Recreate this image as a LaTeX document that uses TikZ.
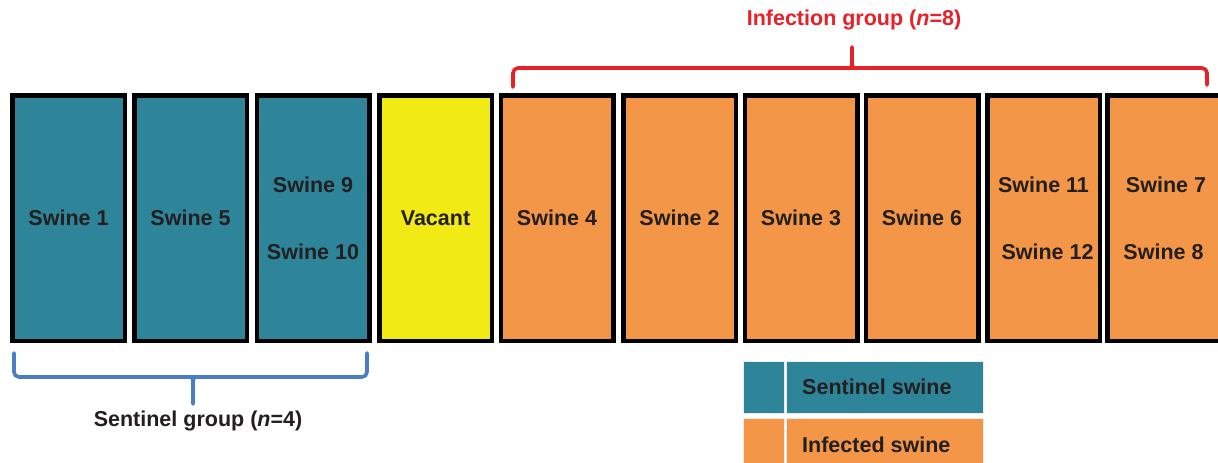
\documentclass[tikz,border=0pt]{standalone}
\usepackage{fontspec}
\setmainfont{Liberation Sans}
\definecolor{teal}{RGB}{46,132,153}
\definecolor{orng}{RGB}{243,150,71}
\definecolor{yell}{RGB}{241,234,20}
\definecolor{redb}{RGB}{232,32,40}
\definecolor{blueb}{RGB}{74,125,196}
\definecolor{txt}{RGB}{35,31,32}
\tikzset{
  pen/.style={draw=black, line width=4.5pt, minimum width=112.5pt, minimum height=245.5pt,
    inner sep=0pt, align=center, text=txt,
    font=\fontsize{21.5pt}{67pt}\selectfont\bfseries},
  sent/.style={pen, fill=teal},
  inf/.style={pen, fill=orng},
  vac/.style={pen, fill=yell},
  brace/.style={line width=3.6pt, rounded corners=5pt, line cap=round},
  lbl/.style={font=\fontsize{21.5pt}{26pt}\selectfont\bfseries, inner sep=0pt},
  cell/.style={draw=white!85!gray, line width=0.8pt, inner sep=0pt, anchor=north west},
}
\begin{document}
\begin{tikzpicture}[x=1pt,y=-1pt]
\clip (0,0) rectangle (1218,463);
\fill[white] (0,0) rectangle (1218,463);
% pens
\node[sent] (b1) at (68.5,218) {Swine 1};
\node[sent] (b2) at (190.5,218) {Swine 5};
\node[sent] (b3) at (313,218) {Swine 9\\Swine 10};
\node[vac]  (b4) at (435.5,218) {Vacant};
\node[inf]  (b5) at (557,218) {Swine 4};
\node[inf]  (b6) at (679.5,218) {Swine 2};
\node[inf]  (b7) at (801,218) {Swine 3};
\node[inf]  (b8) at (922,218) {Swine 6};
\node[inf]  (b9) at (1043.5,218) {Swine 11\\\hspace*{8pt}Swine 12};
\node[inf]  (b10) at (1163.5,218) {\hspace*{5pt}Swine 7\\Swine 8};
% infection bracket
\draw[brace, redb] (513,87) -- (513,68) -- (846,68)
   .. controls (851,68) and (852,64) .. (852,58) -- (852,47);
\draw[brace, redb] (1207,85) -- (1207,68) -- (858,68)
   .. controls (853,68) and (852,64) .. (852,58);
\node[lbl, text=redb] (infl) at (854,20) {Infection group (\textit{n}=8)};
% sentinel bracket
\draw[brace, blueb] (14,353) -- (14,377) -- (187,377)
   .. controls (192,377) and (193,381) .. (193,387) -- (193,404);
\draw[brace, blueb] (367,353) -- (367,377) -- (199,377)
   .. controls (194,377) and (193,381) .. (193,387);
\node[lbl, text=txt] (senl) at (198,421) {Sentinel group (\textit{n}=4)};
% legend
\node[cell, fill=teal, minimum width=41pt, minimum height=52pt] (ls1) at (743,361) {};
\node[cell, fill=teal, minimum width=197pt, minimum height=52pt] (ls2) at (786,361) {};
\node[cell, fill=orng, minimum width=41pt, minimum height=56pt] (li1) at (743,418) {};
\node[cell, fill=orng, minimum width=197pt, minimum height=56pt] (li2) at (786,418) {};
\node[lbl, text=txt, anchor=west] (lst) at (802,387) {Sentinel swine};
\node[lbl, text=txt, anchor=west] (lit) at (802,445) {Infected swine};
\end{tikzpicture}
\end{document}
